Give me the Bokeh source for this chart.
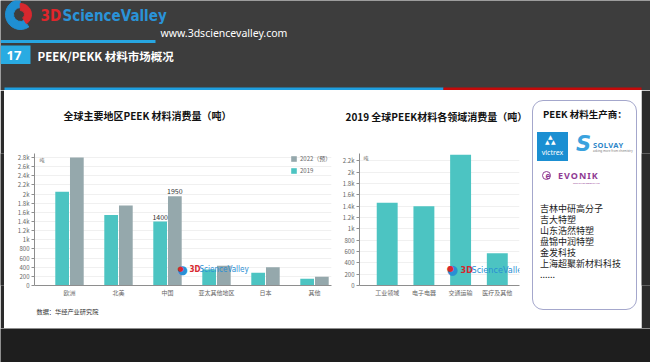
from bokeh.plotting import figure
from bokeh.models import (Range1d, FixedTicker, Label, BoxAnnotation, Legend,
                          LegendItem, ColumnDataSource, Title, Div)
from bokeh.layouts import column, row
from bokeh.transform import dodge
from bokeh.embed import file_html
from bokeh.resources import INLINE

# ---------------- data ----------------
regions = ["欧洲", "北美", "中国", "亚太其他地区", "日本", "其他"]
consumption_2019 = [2050, 1540, 1400, 350, 280, 150]
consumption_2022 = [2800, 1750, 1950, 430, 400, 190]
series_labels = ["2022（预）", "2019"]
left_y_ticks = list(range(0, 2801, 200))

fields = ["工业领域", "电子电器", "交通运输", "医疗及其他"]
field_2019 = [1460, 1400, 2310, 570]
right_y_ticks = list(range(0, 2201, 200))

producers = ["吉林中研高分子", "吉大特塑", "山东浩然特塑", "盘锦中润特塑",
             "金发科技", "上海超聚新材料科技", "......"]

left_title = "全球主要地区PEEK 材料消费量（吨）"
right_title = "2019 全球PEEK材料各领域消费量（吨）"
source_note = "数据：华经产业研究院"
unit = "吨"
slide_no = "17"
slide_title = "PEEK/PEKK 材料市场概况"
site = "www.3dsciencevalley.com"
box_title = "PEEK 材料生产商："

# ---------------- styles ----------------
CJK = "Noto Sans CJK SC"
NARROW = "DejaVu Sans Condensed, DejaVu Sans, sans-serif"
TEAL = "#4cc4c2"
GRAY = "#95a8ac"
AXIS = "#8e8e8e"
TICK_TXT = "#666666"
HEADER_BG = "#3d3d3d"
BOTTOM_BG = "#1e1e1e"
SIDE_BG = "#2a2a2a"

PANEL_TOP, PANEL_H = 90, 238
T, B = 63, 43
FRAME_TOP = PANEL_TOP + T              # 153
FRAME_BOT = PANEL_TOP + PANEL_H - B    # 285


def k_label(v):
    if v == 0:
        return "0"
    if v >= 1000:
        return f"{v / 1000:g}k"
    return str(v)


def style_axes(p):
    for ax in (p.xaxis[0], p.yaxis[0]):
        ax.axis_line_color = AXIS
        ax.major_tick_line_color = AXIS
        ax.minor_tick_line_color = None
        ax.major_label_text_font = CJK
        ax.major_label_text_font_size = "6px"
        ax.major_label_text_color = TICK_TXT
    p.yaxis.major_tick_out = 3
    p.yaxis.major_tick_in = 0
    p.yaxis.major_label_standoff = 2
    p.xaxis.major_tick_line_color = None
    p.xaxis.major_tick_out = 0
    p.xaxis.major_tick_in = 0
    p.xaxis.major_label_standoff = 2
    p.xgrid.grid_line_color = None
    p.ygrid.grid_line_color = "#f0f0f0"


def add_title(p, text, offset, gap):
    # white-on-white spacer next to the frame, then the visible title above it
    p.add_layout(Title(text=".", text_font_size="1px", standoff=gap,
                       text_color="white"), "above")
    p.add_layout(Title(text=text, align="left", offset=offset, standoff=4,
                       text_font=CJK, text_font_size="10px",
                       text_font_style="bold", text_color="#111111"), "above")


def lab(p, x, y, text, size, color, font=CJK, style="normal", align="left",
        **kw):
    p.add_layout(Label(x=x, y=y, text=text, text_align=align,
                       text_baseline="middle", text_font=font,
                       text_font_style=style, text_font_size=size,
                       text_color=color, **kw))


def blank(w, h, color, xr=(0, 1), yr=(1, 0), **kw):
    f = figure(width=w, height=h, x_range=Range1d(*xr), y_range=Range1d(*yr),
               output_backend="svg", toolbar_location=None, x_axis_type=None,
               y_axis_type=None, outline_line_color=None,
               border_fill_color=color, background_fill_color=color, **kw)
    f.grid.grid_line_color = None
    return f


# ---------------- left chart ----------------
X1, W1 = 4, 334
FL1, FR1 = 34, 331
xr1 = Range1d((FL1 - 69) / 49, (FR1 - 69) / 49)
yr1 = Range1d(0, (FRAME_BOT - FRAME_TOP) * 2800 / 128)
p1 = figure(width=W1, height=PANEL_H, x_range=xr1, y_range=yr1, title=None,
            output_backend="svg", toolbar_location=None,
            min_border_left=FL1 - X1, min_border_right=X1 + W1 - FR1,
            min_border_top=T, min_border_bottom=B, outline_line_color=None,
            border_fill_color="white", background_fill_color="white")


def d1x(px):
    return xr1.start + (px - FL1) * (xr1.end - xr1.start) / (FR1 - FL1)


def d1y(py):
    return (FRAME_BOT - py) * yr1.end / (FRAME_BOT - FRAME_TOP)


src1 = ColumnDataSource(dict(x=list(range(len(regions))),
                             v19=consumption_2019, v22=consumption_2022))
r19 = p1.vbar(x=dodge("x", -0.15), top="v19", width=0.28, source=src1,
              fill_color=TEAL, line_color=None)
r22 = p1.vbar(x=dodge("x", 0.15), top="v22", width=0.28, source=src1,
              fill_color=GRAY, line_color=None)
style_axes(p1)
p1.yaxis.ticker = FixedTicker(ticks=left_y_ticks)
p1.yaxis.major_label_overrides = {t: k_label(t) for t in left_y_ticks}
p1.xaxis.ticker = FixedTicker(ticks=list(range(len(regions))))
p1.xaxis.major_label_overrides = {i: n for i, n in enumerate(regions)}
add_title(p1, left_title, 63 - FL1, 26)
p1.add_layout(Title(text=source_note, align="left", offset=2, standoff=11,
                    text_font=CJK, text_font_size="6.2px",
                    text_font_style="normal", text_color="#333333"), "below")

legend = Legend(items=[LegendItem(label=series_labels[0], renderers=[r22]),
                       LegendItem(label=series_labels[1], renderers=[r19])],
                location=(256, 110), glyph_width=7, glyph_height=7,
                label_height=7, label_standoff=3, spacing=3, padding=0,
                margin=0, border_line_color=None, background_fill_alpha=0,
                label_text_font_size="6px", label_text_color="#666666",
                label_text_font=CJK)
p1.add_layout(legend)

ci = regions.index("中国")
for off, val in ((0.15, consumption_2022[ci]), (-0.15, consumption_2019[ci])):
    p1.add_layout(Label(x=ci + off, y=val, text=str(val), text_align="center",
                        text_baseline="bottom", y_offset=2,
                        text_font=CJK, text_font_size="7px",
                        text_color="#333333"))

lab(p1, d1x(39), d1y(159), unit, "5px", "#555555")
lab(p1, d1x(182), d1y(269), "●", "12px", "#2a8fd4", font="DejaVu Sans",
    align="center")
lab(p1, d1x(180), d1y(268), "●", "7px", "#d8282e", font="DejaVu Sans",
    align="center")
lab(p1, d1x(189), d1y(269), "3D", "8px", "#d8282e", font=NARROW, style="bold")
lab(p1, d1x(199), d1y(269), "ScienceValley", "8px", "#2a8fd4", font=NARROW)

# ---------------- right chart ----------------
X2, W2 = 338, 188
FL2, FR2 = 359, 519
xr2 = Range1d((FL2 - 386.7) / 36.7, (FR2 - 386.7) / 36.7)
yr2 = Range1d(0, 2330)
p2 = figure(width=W2, height=PANEL_H, x_range=xr2, y_range=yr2, title=None,
            output_backend="svg", toolbar_location=None,
            min_border_left=FL2 - X2, min_border_right=X2 + W2 - FR2,
            min_border_top=T, min_border_bottom=B, outline_line_color=None,
            border_fill_color="white", background_fill_color="white")


def d2x(px):
    return xr2.start + (px - FL2) * (xr2.end - xr2.start) / (FR2 - FL2)


def d2y(py):
    return (FRAME_BOT - py) * yr2.end / (FRAME_BOT - FRAME_TOP)


src2 = ColumnDataSource(dict(x=list(range(len(fields))), v=field_2019))
p2.vbar(x="x", top="v", width=0.57, source=src2, fill_color=TEAL,
        line_color=None)
style_axes(p2)
p2.yaxis.ticker = FixedTicker(ticks=right_y_ticks)
p2.yaxis.major_label_overrides = {t: k_label(t) for t in right_y_ticks}
p2.xaxis.ticker = FixedTicker(ticks=list(range(len(fields))))
p2.xaxis.major_label_overrides = {i: n for i, n in enumerate(fields)}
add_title(p2, right_title, 345 - FL2, 25)

lab(p2, d2x(363), d2y(157), unit, "5px", "#555555")
lab(p2, d2x(452), d2y(269), "●", "13px", "#2a8fd4", font="DejaVu Sans",
    align="center")
lab(p2, d2x(450), d2y(268), "●", "8px", "#d8282e", font="DejaVu Sans",
    align="center")
lab(p2, d2x(460), d2y(269), "3D", "9px", "#d8282e", font=NARROW, style="bold")
lab(p2, d2x(471), d2y(269), "ScienceValley", "9px", "#2a8fd4", font=NARROW)

# ---------------- producers box (HTML) ----------------
X3, W3 = 526, 115
abs_ = "position:absolute;white-space:nowrap;"
producer_html = "".join(
    f'<div style="{abs_}left:14px;top:{113 + 11 * k}px;height:11px;'
    f'font-size:9px;line-height:11px;color:#222;">{name}</div>'
    for k, name in enumerate(producers))
box_html = f"""
<div style="position:relative;width:{W3}px;height:{PANEL_H}px;background:#ffffff;
 font-family:'Noto Sans CJK SC',sans-serif;overflow:hidden;">
 <div style="position:absolute;left:6px;top:10px;width:105px;height:210px;
  border:1px solid #a4a7cc;border-radius:11px;"></div>
 <div style="{abs_}left:17px;top:17px;font-size:9.5px;line-height:14px;
  font-weight:bold;color:#111;">{box_title}</div>
 <div style="position:absolute;left:11px;top:42px;width:31px;height:29px;
  background:#1b8fd2;"></div>
 <div style="{abs_}left:22px;top:44px;font-size:6px;line-height:6px;color:#fff;
  font-family:'DejaVu Sans';">▲</div>
 <div style="{abs_}left:19px;top:49px;font-size:6px;line-height:6px;color:#fff;
  font-family:'DejaVu Sans';">▲</div>
 <div style="{abs_}left:25px;top:49px;font-size:6px;line-height:6px;color:#fff;
  font-family:'DejaVu Sans';">▲</div>
 <div style="{abs_}left:11px;top:59px;width:31px;text-align:center;font-size:7px;
  line-height:8px;color:#fff;font-family:'Noto Sans';">victrex</div>
 <div style="{abs_}left:50px;top:42px;font-size:21px;line-height:24px;
  font-weight:bold;font-style:italic;color:#3aa2de;font-family:'DejaVu Sans';">S</div>
 <div style="{abs_}left:67px;top:50px;font-size:7.5px;line-height:10px;
  font-weight:bold;letter-spacing:0.4px;color:#2e86c8;font-family:'Noto Sans';">SOLVAY</div>
 <div style="{abs_}left:67px;top:59px;font-size:3px;line-height:4px;color:#777;
  font-family:'Noto Sans';">asking more from chemistry</div>
 <div style="position:absolute;left:16px;top:81px;width:9px;height:9px;
  border:1.5px solid #8f3a93;border-radius:50%;"></div>
 <div style="{abs_}left:16px;top:80px;width:12px;text-align:center;font-size:8px;
  line-height:11px;font-weight:bold;color:#8f3a93;font-family:'Noto Sans';">e</div>
 <div style="{abs_}left:32px;top:80px;font-size:9px;line-height:12px;
  font-weight:bold;letter-spacing:1px;color:#8f3a93;font-family:'Noto Sans';">EVONIK</div>
 <div style="{abs_}left:47px;top:92px;font-size:2.5px;line-height:3px;color:#8f3a93;
  font-family:'Noto Sans';">CREATING ESSENTIALS</div>
 {producer_html}
</div>
"""
p3 = Div(text=box_html, width=W3, height=PANEL_H,
         styles={"background-color": "#ffffff", "margin": "0",
                 "padding": "0"})

side_l = blank(X1, PANEL_H, SIDE_BG, min_border=0)
side_r = blank(650 - X3 - W3, PANEL_H, SIDE_BG, min_border=0)

# ---------------- header ----------------
hdr = blank(650, 90, HEADER_BG, xr=(0, 650), yr=(90, 0), min_border=0)
hdr.annular_wedge(x=20, y=14, inner_radius=7, outer_radius=15,
                  start_angle=1.6, end_angle=5.3, color="#1f8fd2")
hdr.annular_wedge(x=20, y=14, inner_radius=4, outer_radius=11,
                  start_angle=-1.0, end_angle=1.6, color="#d8282e")
lab(hdr, 40, 15, "3D", "15px", "#e0262b", font=NARROW, style="bold")
lab(hdr, 62, 15, "ScienceValley", "15px", "#2a93d8", font=NARROW,
    style="bold")
lab(hdr, 160, 32.5, site, "10.5px", "white", font="Noto Sans")
hdr.add_layout(BoxAnnotation(left=0, right=155, top=39.5, bottom=42.5,
                             fill_color="#27a6e1", fill_alpha=1,
                             line_color=None))
hdr.add_layout(BoxAnnotation(left=0, right=30, top=45, bottom=63.5,
                             fill_color="#29abe2", fill_alpha=1,
                             line_color=None))
lab(hdr, 13.5, 54.5, slide_no, "13px", "white", font="Noto Sans",
    style="bold", align="center")
lab(hdr, 37, 55.5, slide_title, "11.5px", "white", style="bold")
hdr.add_layout(BoxAnnotation(left=4, right=443, top=87, bottom=90,
                             fill_color="#1e9fe0", fill_alpha=1,
                             line_color=None))
hdr.add_layout(BoxAnnotation(left=443, right=641, top=87, bottom=90,
                             fill_color="#c40a0a", fill_alpha=1,
                             line_color=None))

# ---------------- bottom strip ----------------
bot = blank(650, 34, BOTTOM_BG, min_border=0)

page = column(hdr,
              row(side_l, p1, p2, p3, side_r, spacing=0),
              bot, spacing=0)
open("out.html", "w").write(file_html(page, INLINE))
